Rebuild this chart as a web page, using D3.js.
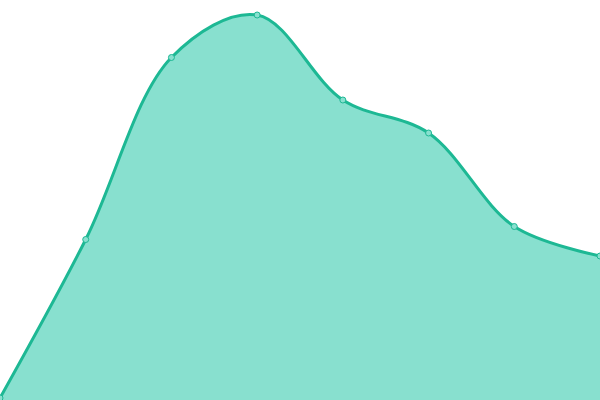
<!DOCTYPE html>
<html><head><meta charset="utf-8">
<script src="https://cdn.jsdelivr.net/npm/d3@7"></script>
<style>html,body{margin:0;padding:0;background:#fff;}svg{display:block;}</style>
</head><body>
<svg id="c" width="600" height="400"></svg>
<script>
const categories = ["A","B","C","D","E","F","G","H"];
const values = [2, 160.5, 342.5, 385, 300, 267, 173.5, 144];

const W = 600, H = 400;
const svg = d3.select("#c");
const x = d3.scalePoint().domain(categories).range([0, W]);
const y = d3.scaleLinear().domain([0, 400]).range([H, 0]);
const data = categories.map((c, i) => ({c, v: values[i]}));
const curve = d3.curveCatmullRom.alpha(0.5);

svg.append("path").datum(data)
  .attr("d", d3.area().x(d => x(d.c)).y0(H).y1(d => y(d.v)).curve(curve))
  .attr("fill", "#88e0cf");
svg.append("path").datum(data)
  .attr("d", d3.line().x(d => x(d.c)).y(d => y(d.v)).curve(curve))
  .attr("fill", "none").attr("stroke", "#1db894").attr("stroke-width", 3);
svg.selectAll("circle").data(data).join("circle")
  .attr("cx", d => x(d.c)).attr("cy", d => y(d.v)).attr("r", 3)
  .attr("fill", "#88e0cf").attr("stroke", "#1db894").attr("stroke-width", 1);
</script>
</body></html>
